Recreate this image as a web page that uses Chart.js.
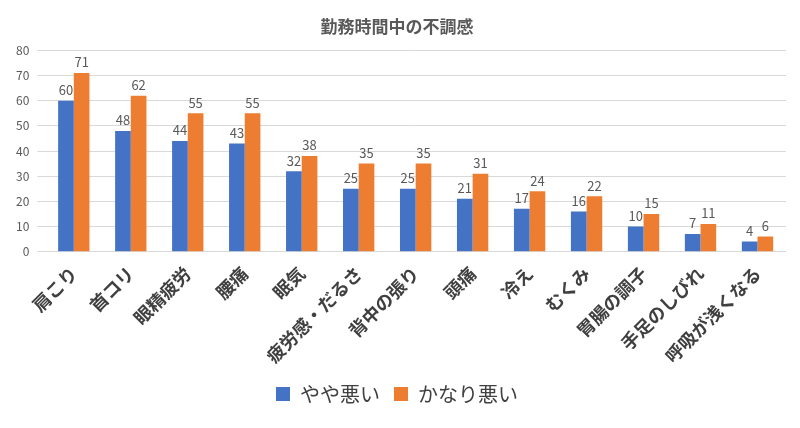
<!DOCTYPE html>
<html><head><meta charset="utf-8">
<script src="https://cdn.jsdelivr.net/npm/chart.js@4/dist/chart.umd.min.js"></script>
<style>html,body{margin:0;padding:0;background:#fff}#w{width:800px;height:428px}</style>
</head><body><div id="w"><canvas id="c"></canvas></div>
<script>
const categories=['肩こり','首コリ','眼精疲労','腰痛','眠気','疲労感・だるさ','背中の張り','頭痛','冷え','むくみ','胃腸の調子','手足のしびれ','呼吸が浅くなる'];
const seriesA=[60,48,44,43,32,25,25,21,17,16,10,7,4];
const seriesB=[71,62,55,55,38,35,35,31,24,22,15,11,6];
const yTicks=[0,10,20,30,40,50,60,70,80];
const F="'Noto Sans CJK JP','Noto Sans',sans-serif";
const labelsPlugin={id:'lbl',afterDatasetsDraw(ch){const c=ch.ctx;c.save();c.font='13px '+F;c.fillStyle='#595959';c.textAlign='center';c.textBaseline='bottom';
ch.data.datasets.forEach((d,i)=>{ch.getDatasetMeta(i).data.forEach((b,j)=>{c.fillText(d.data[j],b.x,b.y-4);});});c.restore();}};
new Chart(document.getElementById('c'),{type:'bar',
data:{labels:categories,datasets:[
{label:'やや悪い',data:seriesA,backgroundColor:'#4472C4',categoryPercentage:0.55,barPercentage:1},
{label:'かなり悪い',data:seriesB,backgroundColor:'#ED7D31',categoryPercentage:0.55,barPercentage:1}]},
options:{responsive:true,maintainAspectRatio:false,animation:false,
layout:{padding:{left:8,right:14,top:4,bottom:14}},
plugins:{title:{display:true,text:'勤務時間中の不調感',color:'#595959',font:{family:F,size:17,weight:'bold'},padding:{top:12,bottom:14}},
legend:{position:'bottom',labels:{boxWidth:14,boxHeight:14,color:'#404040',font:{family:F,size:20},padding:14}},tooltip:{enabled:false}},
scales:{x:{grid:{display:false},border:{display:false},ticks:{color:'#404040',maxRotation:45,minRotation:45,font:{family:F,size:18,weight:'bold'}}},
y:{min:0,max:80,afterBuildTicks(s){s.ticks=yTicks.map(v=>({value:v}));},grid:{color:'#D9D9D9'},border:{display:false},ticks:{color:'#595959',font:{family:F,size:12},padding:8}}}},
plugins:[labelsPlugin]});
</script></body></html>
